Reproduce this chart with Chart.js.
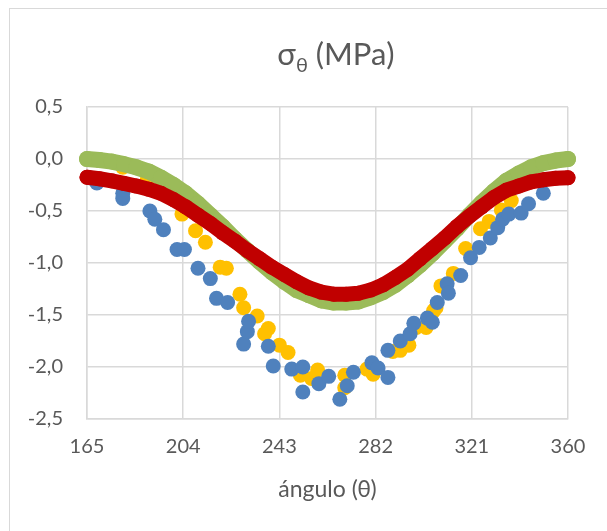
<!DOCTYPE html>
<html>
<head>
<meta charset="utf-8">
<script src="https://cdn.jsdelivr.net/npm/chart.js@4"></script>
<style>
  body { margin: 0; background: #ffffff; overflow: hidden; }
  #frame { position: absolute; left: 9px; top: 8px; width: 700px; height: 600px; border: 1px solid #d9d9d9; }
  #chartTitle {
    position: absolute; left: 236px; top: 34px; width: 200px; text-align: center;
    font-family: Lato, sans-serif; font-size: 31px; color: #595959;
  }
  #chartTitle sub { font-size: 20px; vertical-align: -7px; }
  canvas { position: absolute; left: 0; top: 0; }
</style>
</head>
<body>
<div id="frame"></div>
<canvas id="stressChart" width="607" height="531"></canvas>
<div id="chartTitle">σ<sub>θ</sub> (MPa)</div>
<script>
const xTicks = [165, 204, 243, 282, 321, 360];
const yTicks = [0.5, 0, -0.5, -1, -1.5, -2, -2.5];

const curveTheta = [165, 170, 175, 180, 185, 190, 195, 200, 205, 210,
  215, 220, 225, 230, 235, 240, 245, 250, 255, 260,
  265, 270, 275, 280, 285, 290, 295, 300, 305, 310,
  315, 320, 325, 330, 335, 340, 345, 350, 355, 360];

const greenValues = [0, -0.01, -0.025, -0.05, -0.08, -0.12, -0.18, -0.25, -0.33, -0.43,
  -0.54, -0.65, -0.77, -0.88, -0.99, -1.09, -1.18, -1.26, -1.31, -1.36,
  -1.38, -1.38, -1.37, -1.33, -1.28, -1.21, -1.12, -1.02, -0.91, -0.79,
  -0.67, -0.54, -0.42, -0.31, -0.21, -0.14, -0.08, -0.04, -0.015, 0];

const redValues = [-0.175, -0.19, -0.21, -0.235, -0.26, -0.29, -0.33, -0.39, -0.46, -0.54,
  -0.62, -0.71, -0.79, -0.88, -0.96, -1.04, -1.11, -1.18, -1.24, -1.28,
  -1.3, -1.3, -1.29, -1.26, -1.21, -1.14, -1.06, -0.96, -0.86, -0.76,
  -0.65, -0.55, -0.46, -0.37, -0.3, -0.26, -0.22, -0.2, -0.185, -0.18];

const blueTheta = [166, 169, 179.5, 179.5, 190.5, 192.5, 196, 201.5, 204.5, 210,
  215, 217.5, 222, 228.5, 230, 230.5, 238.5, 240.5, 248, 252.5,
  252.5, 259, 263, 267.5, 270.5, 273, 280.5, 283, 287, 287,
  292, 296, 297.5, 303, 305, 307, 311, 311.5, 316.5, 320.5,
  324, 328.5, 331.5, 333.5, 336, 341, 344, 350];
const blueValues = [-0.18, -0.23, -0.33, -0.38, -0.5, -0.58, -0.68, -0.87, -0.87, -1.05,
  -1.15, -1.34, -1.38, -1.78, -1.66, -1.56, -1.8, -1.99, -2.02, -2.0,
  -2.24, -2.16, -2.09, -2.31, -2.18, -2.05, -1.96, -2.01, -2.1, -1.84,
  -1.75, -1.68, -1.58, -1.53, -1.57, -1.38, -1.2, -1.29, -1.12, -0.95,
  -0.85, -0.76, -0.66, -0.58, -0.53, -0.52, -0.43, -0.33];

const yellowTheta = [179.5, 189.5, 203.5, 209, 213, 219, 221.5, 227, 228.5, 234,
  237, 238.5, 243, 246.5, 251.5, 256, 258.5, 269.5, 269.5, 278.5,
  281, 289, 292, 295.5, 298.5, 302.5, 305.5, 306.5, 308.5, 313.5,
  318.5, 324.5, 328, 333, 337];
const yellowValues = [-0.08, -0.19, -0.53, -0.69, -0.8, -1.04, -1.05, -1.3, -1.43, -1.51,
  -1.68, -1.63, -1.79, -1.86, -2.08, -2.11, -2.03, -2.08, -2.2, -2.02,
  -2.07, -1.85, -1.84, -1.79, -1.62, -1.62, -1.46, -1.43, -1.22, -1.1,
  -0.86, -0.67, -0.6, -0.49, -0.4];

function toPoints(xs, ys) {
  return xs.map((x, i) => ({ x: x, y: ys[i] }));
}

const textColor = "#595959";
const gridColor = "#d9d9d9";
const fontName = "Lato, sans-serif";

new Chart(document.getElementById("stressChart").getContext("2d"), {
  type: "scatter",
  data: {
    datasets: [
      {
        label: "rojo",
        data: toPoints(curveTheta, redValues),
        showLine: true,
        borderColor: "#c00000",
        backgroundColor: "#c00000",
        borderWidth: 15,
        borderCapStyle: "round",
        borderJoinStyle: "round",
        pointRadius: 7.5,
        pointBorderWidth: 0,
        clip: false
      },
      {
        label: "verde",
        data: toPoints(curveTheta, greenValues),
        showLine: true,
        borderColor: "#9bbb59",
        backgroundColor: "#9bbb59",
        borderWidth: 16,
        borderCapStyle: "round",
        borderJoinStyle: "round",
        pointRadius: 8,
        pointBorderWidth: 0,
        clip: false
      },
      {
        label: "azul",
        data: toPoints(blueTheta, blueValues),
        backgroundColor: "#4f81bd",
        pointRadius: 7.5,
        pointBorderWidth: 0,
        clip: false
      },
      {
        label: "amarillo",
        data: toPoints(yellowTheta, yellowValues),
        backgroundColor: "#ffc000",
        pointRadius: 7.5,
        pointBorderWidth: 0,
        clip: false
      }
    ]
  },
  options: {
    responsive: false,
    animation: false,
    devicePixelRatio: 1,
    layout: {
      padding: { left: 0, right: 39, top: 107, bottom: 0 }
    },
    plugins: {
      legend: { display: false },
      tooltip: { enabled: false }
    },
    scales: {
      x: {
        type: "linear",
        min: 165,
        max: 360,
        afterBuildTicks: function (scale) {
          scale.ticks = xTicks.map(v => ({ value: v }));
        },
        afterFit: function (scale) {
          scale.height = 112;
        },
        grid: { color: gridColor, lineWidth: 1.5, drawTicks: false },
        border: { color: gridColor, width: 1.5 },
        ticks: {
          color: textColor,
          padding: 16,
          font: { family: fontName, size: 20 },
          maxRotation: 0
        },
        title: {
          display: true,
          text: "ángulo (θ)",
          color: textColor,
          font: { family: fontName, size: 23 },
          padding: { top: 28, bottom: 28 }
        }
      },
      y: {
        type: "linear",
        min: -2.5,
        max: 0.5,
        afterBuildTicks: function (scale) {
          scale.ticks = yTicks.map(v => ({ value: v }));
        },
        afterFit: function (scale) {
          scale.width = 87;
        },
        grid: { color: gridColor, lineWidth: 1.5, drawTicks: false },
        border: { color: gridColor, width: 1.5 },
        ticks: {
          color: textColor,
          padding: 24,
          font: { family: fontName, size: 20 },
          callback: function (value) {
            return value.toFixed(1).replace(".", ",");
          }
        }
      }
    }
  }
});
</script>
</body>
</html>
